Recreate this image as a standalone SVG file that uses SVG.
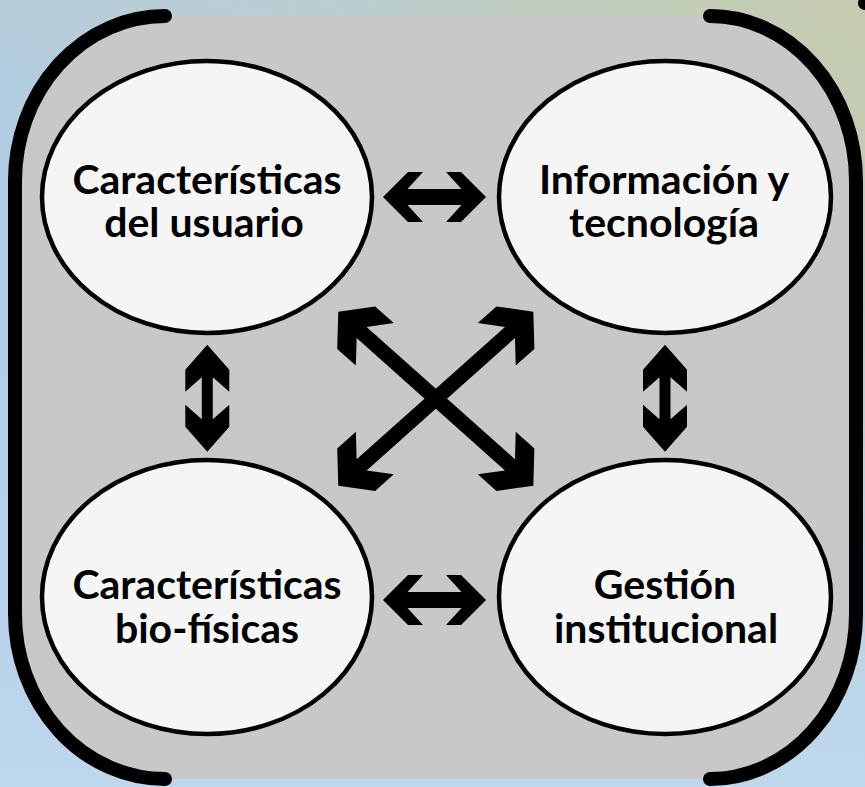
<svg xmlns="http://www.w3.org/2000/svg" width="865" height="787" viewBox="0 0 865 787">
  <defs>
    <radialGradient id="bg" cx="865" cy="0" r="900" gradientUnits="userSpaceOnUse">
      <stop offset="0" stop-color="#d8cb7c"/>
      <stop offset="0.3" stop-color="#d0cf9c"/>
      <stop offset="0.65" stop-color="#bcd1d6"/>
      <stop offset="1" stop-color="#b2cee9"/>
    </radialGradient>
    <linearGradient id="bg2" x1="0" y1="0" x2="0" y2="787" gradientUnits="userSpaceOnUse">
      <stop offset="0" stop-color="#b8ccd2" stop-opacity="0.6"/>
      <stop offset="0.3" stop-color="#abc9e7" stop-opacity="0.4"/>
      <stop offset="1" stop-color="#c4dbf0" stop-opacity="0.7"/>
    </linearGradient>
    <path id="harrow" d="M-51.5,0 L-26.5,-25 L-11.5,-25 L-27,-8 L27,-8 L11.5,-25 L26.5,-25 L51.5,0 L26.5,25 L11.5,25 L27,8 L-27,8 L-11.5,25 L-26.5,25 Z"/>
    <path id="varrow" d="M-53.5,0 L-28.5,-22 L-6.5,-22 L-21,-5.5 L21,-5.5 L6.5,-22 L28.5,-22 L53.5,0 L28.5,22 L6.5,22 L21,5.5 L-21,5.5 L-6.5,22 L-28.5,22 Z"/>
    <path id="darrow" d="M-130.7,0 L-106.7,-28.5 L-81.7,-28.5 L-99.4,-7.5 L99.4,-7.5 L81.7,-28.5 L106.7,-28.5 L130.7,0 L106.7,28.5 L81.7,28.5 L99.4,7.5 L-99.4,7.5 L-81.7,28.5 L-106.7,28.5 Z"/>
  </defs>
  <style>
    .node ellipse { fill: #f5f5f5; stroke: #000; stroke-width: 4.5; }
    .label { font-family: Lato, "Liberation Sans", sans-serif; font-weight: 700; font-size: 41px; text-anchor: middle; fill: #000; }
    .bracket { fill: none; stroke: #000; stroke-width: 14; stroke-linecap: round; }
    .conn use { fill: #000; }
  </style>

  <rect x="0" y="0" width="865" height="787" fill="url(#bg)"/>
  <rect x="0" y="0" width="865" height="787" fill="url(#bg2)"/>

  <g id="frame">
    <path d="M165,16 H710 A146,165 0 0 1 856,181 V614 A146,165 0 0 1 710,779 H165 A150,165 0 0 1 15,614 V181 A150,165 0 0 1 165,16 Z" fill="#c8c8c8"/>
    <path class="bracket" d="M165,16 A150,165 0 0 0 15,181 V614 A150,165 0 0 0 165,779"/>
    <path class="bracket" d="M710,16 A146,165 0 0 1 856,181 V614 A146,165 0 0 1 710,779"/>
    <circle cx="865" cy="3" r="7" fill="#000"/>
  </g>

  <g id="connectors" class="conn">
    <use href="#harrow" transform="translate(434.5,197)"/>
    <use href="#harrow" transform="translate(434.5,600)"/>
    <use href="#varrow" transform="translate(207.3,398.3) rotate(90)"/>
    <use href="#varrow" transform="translate(665,398.3) rotate(90)"/>
    <use href="#darrow" transform="translate(435.8,398.7) rotate(41.74)"/>
    <use href="#darrow" transform="translate(435.8,398.7) rotate(-41.74)"/>
  </g>

  <g id="node-usuario" class="node">
    <ellipse cx="207" cy="197" rx="165" ry="136"/>
    <text class="label" x="207" y="194">Características</text>
    <text class="label" x="204" y="237">del usuario</text>
  </g>

  <g id="node-informacion" class="node">
    <ellipse cx="665" cy="197" rx="166" ry="136"/>
    <text class="label" x="664" y="194">Información y</text>
    <text class="label" x="664" y="237">tecnología</text>
  </g>

  <g id="node-biofisicas" class="node">
    <ellipse cx="207" cy="597" rx="165" ry="137"/>
    <text class="label" x="207" y="599">Características</text>
    <text class="label" x="207" y="643">bio-físicas</text>
  </g>

  <g id="node-gestion" class="node">
    <ellipse cx="665" cy="597" rx="166" ry="137"/>
    <text class="label" x="665" y="599">Gestión</text>
    <text class="label" x="666" y="643">institucional</text>
  </g>
</svg>
